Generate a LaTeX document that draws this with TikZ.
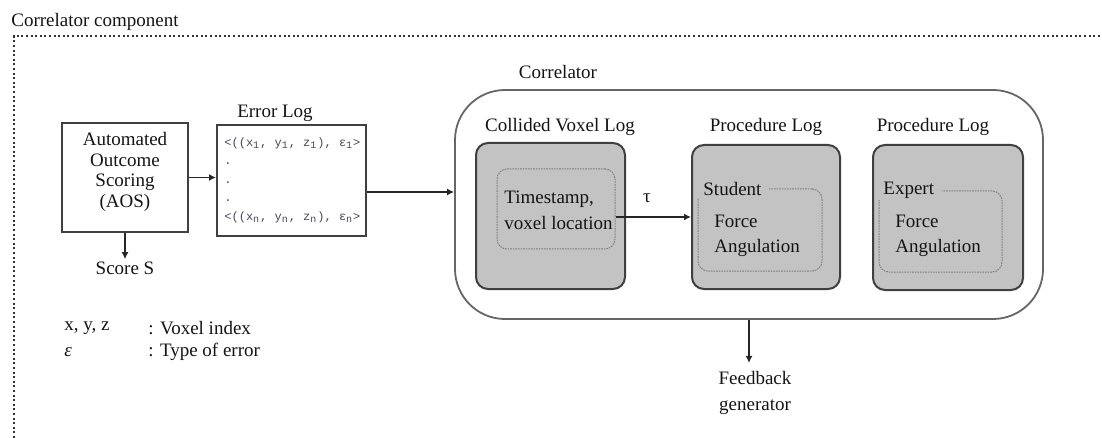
\documentclass[tikz,border=0pt]{standalone}
\usepackage{fontspec}
\setmainfont{Liberation Serif}
\newfontfamily\monof{Liberation Mono}
\usetikzlibrary{arrows.meta,calc}
\definecolor{boxgray}{RGB}{195,195,195}
\definecolor{inkc}{RGB}{20,20,20}
\definecolor{logc}{RGB}{70,70,90}
\begin{document}
\begin{tikzpicture}[x=0.5pt,y=-0.5pt,
  font=\fontsize{9.5}{10.5}\selectfont, text=inkc,
  arr/.style={-{Latex[length=3.5pt,width=3.5pt]}, line width=0.75pt, draw=black!85},
  plainbox/.style={draw=black!75, line width=1pt, inner sep=0pt},
  graybox/.style={draw=black!75, line width=1pt, fill=boxgray, rounded corners=6pt, inner sep=0pt},
  innerbox/.style={draw=black!50, line width=0.5pt, dash pattern=on 0.8pt off 0.5pt, rounded corners=5pt, inner sep=0pt},
  lbl/.style={inner sep=1pt},
  loglines/.style={font=\monof\fontsize{6}{9.3}\selectfont, text=logc, align=left, inner sep=0pt}
]
\useasboundingbox (0,0) rectangle (1102,438);

% outer dotted frame
\draw[black!80, line width=1.2pt, dash pattern=on 1pt off 1.3pt] (14,438) -- (14,36) -- (1102,36);
\node[lbl, anchor=west] (title) at (9,22) {Correlator component};

% AOS
\node[plainbox, minimum width=63pt, minimum height=54.5pt] (aos) at (125,177.5) {};
\node[lbl, align=center, font=\fontsize{9.5}{10.2}\selectfont] (aost) at (125,172) {Automated\\Outcome\\Scoring\\(AOS)};
\node[lbl] (score) at (125,268) {Score S};

% Error log
\node[plainbox, minimum width=74.5pt, minimum height=55.5pt] (errlog) at (291.5,180.5) {};
\node[lbl] (errt) at (275,113) {Error Log};
\node[loglines, anchor=north west] (logtxt) at (224,137)
  {<((x\textsubscript{1}, y\textsubscript{1}, z\textsubscript{1}), ε\textsubscript{1}>\\
   .\\ .\\ .\\
   <((x\textsubscript{n}, y\textsubscript{n}, z\textsubscript{n}), ε\textsubscript{n}>};

% legend
\node[lbl, anchor=west] (lg1) at (62,328) {x, y, z};
\node[lbl, anchor=west] (lg2) at (62,352) {\textit{ε}};
\node[lbl, anchor=west] (lg3) at (146,328) {: Voxel index};
\node[lbl, anchor=west] (lg4) at (146,352) {: Type of error};

% Correlator
\node[draw=black!60, line width=0.9pt, rounded corners=25pt, minimum width=294pt, minimum height=114.5pt, inner sep=0pt] (corr) at (749,204.5) {};
\node[lbl] (corrt) at (558,72) {Correlator};

% Collided voxel log
\node[graybox, minimum width=74.5pt, minimum height=73pt] (cvl) at (550.5,216) {};
\node[lbl] (cvlt) at (560,127) {Collided Voxel Log};
\node[innerbox, minimum width=59pt, minimum height=40pt] (ts) at (556,209) {};
\node[lbl, anchor=west, align=left, font=\fontsize{9.5}{13}\selectfont] (tst) at (502,210) {Timestamp,\\voxel location};

% Procedure log 1 (student)
\node[graybox, minimum width=74pt, minimum height=72pt] (pl1) at (766,217) {};
\node[lbl] (pl1t) at (766,127) {Procedure Log};
\node[innerbox, minimum width=62pt, minimum height=41pt] (stbox) at (760,230) {};
\node[anchor=west, fill=boxgray, inner ysep=1pt, inner xsep=4pt] (stl) at (695,189) {Student};
\node[lbl, anchor=west, align=left, font=\fontsize{9.5}{12.5}\selectfont] (stt) at (712,236) {Force\\Angulation};

% Procedure log 2 (expert)
\node[graybox, minimum width=75pt, minimum height=72.5pt] (pl2) at (948,217.5) {};
\node[lbl] (pl2t) at (933,127) {Procedure Log};
\node[innerbox, minimum width=61.5pt, minimum height=40.5pt] (exbox) at (940.5,231.5) {};
\node[anchor=west, fill=boxgray, inner ysep=1pt, inner xsep=4pt] (exl) at (875,190) {Expert\hspace{5pt}};
\node[lbl, anchor=west, align=left, font=\fontsize{9.5}{12.5}\selectfont] (ext) at (893,236) {Force\\Angulation};

% tau
\node[lbl] (tau) at (647,198) {τ};

% Feedback
\node[lbl, align=center, font=\fontsize{9.5}{13}\selectfont] (fb) at (755,393) {Feedback\\generator};

% connectors
\draw[arr] (aos.east) -- (aos.east -| errlog.west);
\draw[arr] (aos.south) -- (score.north);
\coordinate (e1) at ($(errlog.east)+(0,11.5)$);
\draw[arr] (e1) -- (e1 -| corr.west);
\draw[arr] (ts.east |- pl1.west) -- (pl1.west);
\draw[arr, shorten >=3pt] (corr.south) -- (corr.south |- fb.north);
\end{tikzpicture}
\end{document}
